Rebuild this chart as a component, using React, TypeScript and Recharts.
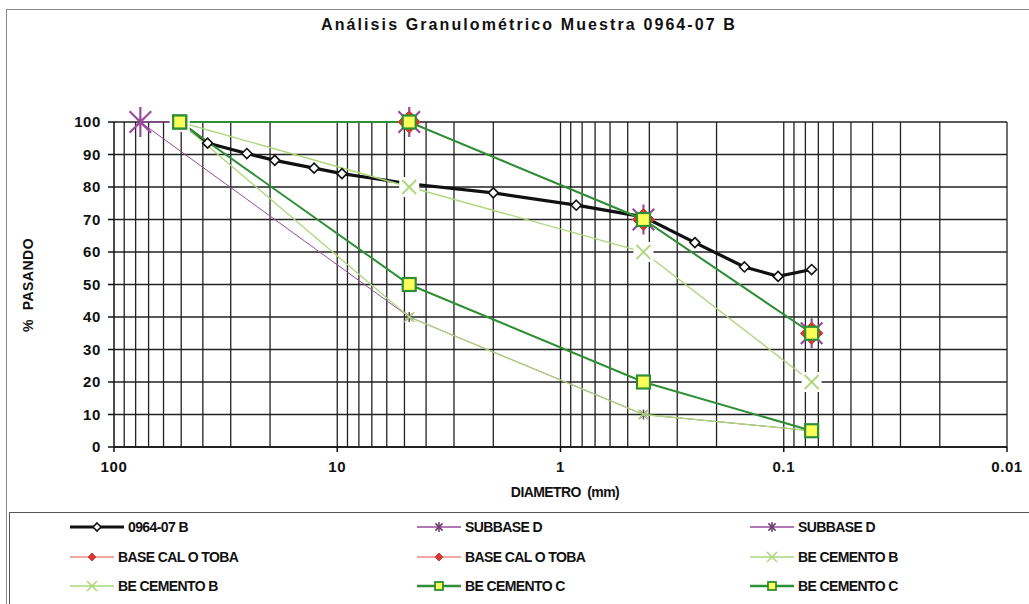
import React from 'react';
import { LineChart, Line, XAxis, YAxis, CartesianGrid, ReferenceLine } from 'recharts';

// ---- data ----
const sampleX = [50.8, 38.1, 25.4, 19.05, 12.7, 9.525, 4.76, 2.0, 0.85, 0.425, 0.25, 0.15, 0.106, 0.075];
const sampleY = [100, 93.5, 90.3, 88.2, 85.8, 84.1, 81, 78.2, 74.4, 70.8, 62.9, 55.4, 52.5, 54.6];

const subbaseX = [76.2, 4.76, 0.425, 0.075];
const subbaseLow = [100, 40, 10, 5];
const subbaseHigh = [100, 100, 70, 35];

const baseCalX = [4.76, 0.425, 0.075];
const baseCalLow = [100, 70, 35];
const baseCalHigh = [100, 70, 35];

const cemX = [50.8, 4.76, 0.425, 0.075];
const cemBLow = [100, 40, 10, 5];
const cemBHigh = [100, 80, 60, 20];
const cemCLow = [100, 50, 20, 5];
const cemCHigh = [100, 100, 70, 35];

const xTicks = [100, 10, 1, 0.1, 0.01];
const yTicks = [0, 10, 20, 30, 40, 50, 60, 70, 80, 90, 100];
const minorX = [
  90, 80, 70, 60, 50, 40, 30, 20,
  9, 8, 7, 6, 5, 4, 3, 2,
  0.9, 0.8, 0.7, 0.6, 0.5, 0.4, 0.3, 0.2,
  0.09, 0.08, 0.07, 0.06, 0.05, 0.04, 0.03, 0.02,
  10, 1, 0.1, 0.01,
];

const names = [
  '0964-07 B', 'SUBBASE D', 'SUBBASE D', 'BASE CAL O TOBA', 'BASE CAL O TOBA',
  'BE CEMENTO B', 'BE CEMENTO B', 'BE CEMENTO C', 'BE CEMENTO C',
];

const toPts = (xs: number[], ys: number[]) => xs.map((x, i) => ({ x, y: ys[i] }));

const COL = {
  black: '#111111',
  purple: '#9b4a9e',
  purpleDark: '#6a3a6a',
  red: '#d23a32',
  redLine: '#ee8a84',
  light: '#aad87a',
  dark: '#2f8f36',
  yellow: '#ffff5a',
};

// ---- markers ----
type MK = 'diamondW' | 'diamondWs' | 'starBig' | 'starSmall' | 'diamondR' | 'diamondRsmall' | 'xBox' | 'xSmall' | 'square' | 'squareSmall';

function marker(kind: MK, cx: number, cy: number, key?: string | number) {
  switch (kind) {
    case 'diamondW':
    case 'diamondWs': {
      const r = kind === 'diamondW' ? 5 : 4;
      return <path key={key} d={`M${cx},${cy - r}L${cx + r},${cy}L${cx},${cy + r}L${cx - r},${cy}Z`} fill="#fff" stroke={COL.black} strokeWidth={1.6} />;
    }
    case 'starBig':
    case 'starSmall': {
      const r = kind === 'starBig' ? 15 : 5;
      const c = kind === 'starBig' ? COL.purple : COL.purpleDark;
      const d = r * 0.72;
      return (
        <g key={key} stroke={c} strokeWidth={kind === 'starBig' ? 2.2 : 1.5}>
          <line x1={cx} y1={cy - r} x2={cx} y2={cy + r} />
          <line x1={cx - d} y1={cy - d} x2={cx + d} y2={cy + d} />
          <line x1={cx - d} y1={cy + d} x2={cx + d} y2={cy - d} />
        </g>
      );
    }
    case 'diamondR':
    case 'diamondRsmall': {
      const r = kind === 'diamondR' ? 11 : 4;
      return <path key={key} d={`M${cx},${cy - r}L${cx + r},${cy}L${cx},${cy + r}L${cx - r},${cy}Z`} fill={COL.red} stroke={COL.red} strokeWidth={1} />;
    }
    case 'xBox': {
      const r = 7;
      return (
        <g key={key}>
          <rect x={cx - 10} y={cy - 10} width={20} height={20} fill="#fff" />
          <line x1={cx - r} y1={cy - r} x2={cx + r} y2={cy + r} stroke={COL.light} strokeWidth={1.8} />
          <line x1={cx - r} y1={cy + r} x2={cx + r} y2={cy - r} stroke={COL.light} strokeWidth={1.8} />
        </g>
      );
    }
    case 'xSmall': {
      const r = 5;
      return (
        <g key={key}>
          <line x1={cx - r} y1={cy - r} x2={cx + r} y2={cy + r} stroke={COL.light} strokeWidth={1.6} />
          <line x1={cx - r} y1={cy + r} x2={cx + r} y2={cy - r} stroke={COL.light} strokeWidth={1.6} />
        </g>
      );
    }
    case 'squareSmall': {
      const s = 4;
      return <rect key={key} x={cx - s} y={cy - s} width={s * 2} height={s * 2} fill={COL.yellow} stroke={COL.dark} strokeWidth={1.8} />;
    }
    case 'square':
    default: {
      const s = 6.5;
      return <rect key={key} x={cx - s} y={cy - s} width={s * 2} height={s * 2} fill={COL.yellow} stroke={COL.dark} strokeWidth={2.2} />;
    }
  }
}

const dotFn = (kind: MK) => (props: any) => {
  const { cx, cy, index } = props;
  if (cx == null || cy == null) return <g key={`e${index}`} />;
  return marker(kind, cx, cy, `m${index}`);
};

const series = [
  { name: names[0], data: toPts(sampleX, sampleY), color: COL.black, width: 3.2, mk: 'diamondW' as MK, lg: 'diamondWs' as MK },
  { name: names[1], data: toPts(subbaseX, subbaseLow), color: COL.purple, width: 1, mk: 'starSmall' as MK, lg: 'starSmall' as MK },
  { name: names[2], data: toPts(subbaseX, subbaseHigh), color: COL.purple, width: 1, mk: 'starBig' as MK, lg: 'starSmall' as MK },
  { name: names[3], data: toPts(baseCalX, baseCalLow), color: COL.redLine, width: 1, mk: 'diamondR' as MK, lg: 'diamondRsmall' as MK },
  { name: names[4], data: toPts(baseCalX, baseCalHigh), color: COL.redLine, width: 1, mk: 'diamondR' as MK, lg: 'diamondRsmall' as MK },
  { name: names[5], data: toPts(cemX, cemBHigh), color: COL.light, width: 1.3, mk: 'xBox' as MK, lg: 'xSmall' as MK },
  { name: names[6], data: toPts(cemX, cemBLow), color: COL.light, width: 1.3, mk: 'xSmall' as MK, lg: 'xSmall' as MK },
  { name: names[7], data: toPts(cemX, cemCLow), color: COL.dark, width: 2, mk: 'square' as MK, lg: 'squareSmall' as MK },
  { name: names[8], data: toPts(cemX, cemCHigh), color: COL.dark, width: 2, mk: 'square' as MK, lg: 'squareSmall' as MK },
];

const FONT = '"Liberation Sans", Arial, sans-serif';

const legendCols = [58, 405, 738];
const legendRows = [4, 34, 63];

const LegendBox = () => (
  <div style={{ position: 'absolute', left: 9, top: 512, width: 1030, height: 100, border: '1.5px solid #555', boxSizing: 'border-box', background: '#fff' }}>
    {series.map((s, i) => {
      const col = i % 3;
      const row = Math.floor(i / 3);
      const sw = i === 0 ? 58 : 48;
      return (
        <div key={i} style={{ position: 'absolute', left: legendCols[col], top: legendRows[row], display: 'flex', alignItems: 'center', height: 20 }}>
          <svg width={sw} height={20} style={{ display: 'block' }}>
            <line x1={2} y1={10} x2={sw - 2} y2={10} stroke={s.color} strokeWidth={i === 0 ? 3 : s.width + 0.4} />
            {marker(s.lg, sw / 2, 10)}
          </svg>
          <span style={{ fontFamily: FONT, fontSize: 14, fontWeight: 700, letterSpacing: -0.6, color: '#111', marginLeft: 2 }}>{s.name}</span>
        </div>
      );
    })}
  </div>
);

export default function App() {
  return (
    <div style={{ position: 'absolute', left: 0, top: 0, width: 1029, height: 604, overflow: 'hidden', background: '#fff' }}>
      <div style={{ position: 'absolute', left: 6, top: 9, width: 1040, height: 620, border: '1.5px solid #8a8a8a', boxSizing: 'border-box' }} />
      <div style={{ position: 'absolute', left: 0, top: 16, width: 1058, textAlign: 'center', fontFamily: FONT, fontWeight: 700, fontSize: 16, letterSpacing: 2.1, color: '#111' }}>
        Análisis Granulométrico Muestra 0964-07 B
      </div>
      <div style={{ position: 'absolute', left: 28, top: 285, transform: 'translate(-50%, -50%) rotate(-90deg)', fontFamily: FONT, fontWeight: 700, fontSize: 14, letterSpacing: 0.5, color: '#111', whiteSpace: 'nowrap' }}>
        %&nbsp; PASANDO
      </div>
      <div style={{ position: 'absolute', left: 565, top: 492, transform: 'translate(-50%, -50%)', fontFamily: FONT, fontWeight: 700, fontSize: 14, letterSpacing: -0.6, color: '#111', whiteSpace: 'nowrap' }}>
        DIAMETRO&nbsp; (mm)
      </div>
      <div style={{ position: 'absolute', left: 0, top: 0 }}>
        <LineChart width={1029} height={604} margin={{ top: 122, right: 22, bottom: 127, left: 54 }}>
          <CartesianGrid vertical={false} stroke="#222" strokeWidth={1.3} />
          {minorX.map((v) => (
            <ReferenceLine key={`v${v}`} x={v} stroke="#222" strokeWidth={1.3} ifOverflow="extendDomain" />
          ))}
          <XAxis
            dataKey="x"
            type="number"
            scale="log"
            domain={[0.01, 100]}
            reversed
            allowDataOverflow
            ticks={xTicks}
            tickFormatter={(v: number) => String(v)}
            interval={0}
            stroke="#111"
            strokeWidth={1.5}
            tickSize={5}
            tickMargin={9}
            height={30}
            tick={{ fill: '#111', fontFamily: FONT, fontSize: 15, fontWeight: 700, letterSpacing: 0.6 } as any}
          />
          <YAxis
            dataKey="y"
            type="number"
            domain={[0, 100]}
            ticks={yTicks}
            interval={0}
            width={60}
            stroke="#111"
            strokeWidth={1.5}
            tickSize={6}
            tickMargin={7}
            tick={{ fill: '#111', fontFamily: FONT, fontSize: 15, fontWeight: 700, letterSpacing: 0.6 } as any}
          />
          {series.map((s, i) => (
            <Line
              key={i}
              data={s.data}
              dataKey="y"
              name={s.name}
              type="linear"
              stroke={s.color}
              strokeWidth={s.width}
              dot={dotFn(s.mk)}
              activeDot={false}
              isAnimationActive={false}
              legendType="none"
            />
          ))}
        </LineChart>
      </div>
      <LegendBox />
    </div>
  );
}
